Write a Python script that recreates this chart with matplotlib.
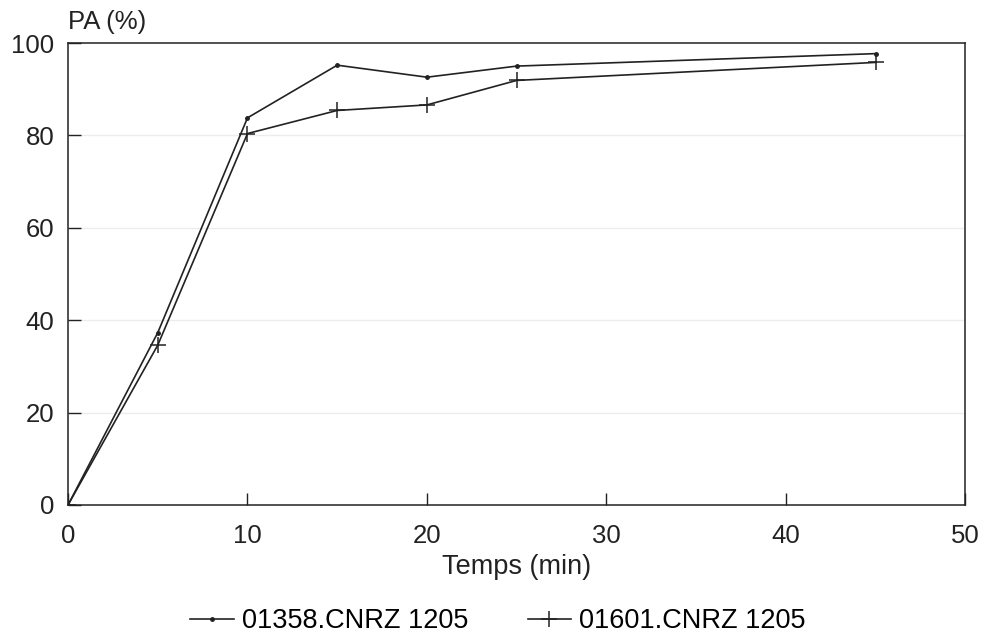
import matplotlib
matplotlib.use("Agg")
import matplotlib.pyplot as plt

plt.rcParams['font.family'] = ['Liberation Sans', 'DejaVu Sans']

time_min = [0, 5, 10, 15, 20, 25, 45]
s1_name = "01358.CNRZ 1205"
s1_vals = [0, 37.3, 83.8, 95.2, 92.6, 95.0, 97.7]
s2_name = "01601.CNRZ 1205"
s2_vals = [0, 34.6, 80.4, 85.4, 86.6, 91.9, 95.8]
x_ticks = [0, 10, 20, 30, 40, 50]
y_ticks = [0, 20, 40, 60, 80, 100]
grid_levels = [20, 40, 60, 80]

fig = plt.figure(figsize=(9.86, 6.38), dpi=100)
ax = fig.add_axes([0.069, 0.2085, 0.910, 0.7241])

for g in grid_levels:
    ax.axhline(g, color='#ececec', lw=1.0, zorder=0)

col = '#222222'
ax.plot(time_min, s1_vals, color=col, lw=1.2, marker='o', markersize=2.5,
        label=s1_name)
ax.plot(time_min, s2_vals, color=col, lw=1.2, marker='+', markersize=12,
        markeredgewidth=1.1, label=s2_name)

ax.set_xlim(0, 50)
ax.set_ylim(0, 100)
ax.set_xticks(x_ticks)
ax.set_yticks(y_ticks)
ax.tick_params(direction='in', length=9, width=1.0, labelsize=18.5,
               colors=col)
ax.tick_params(axis='x', pad=14)
ax.tick_params(axis='y', pad=10)
for s in ax.spines.values():
    s.set_color(col)
    s.set_linewidth(1.1)

ax.set_xlabel("Temps (min)", fontsize=19.5, labelpad=4, color=col)
fig.text(0.069, 0.9655, "PA (%)", fontsize=18.5, ha='left', va='center', color=col)

leg = fig.legend(loc='center', bbox_to_anchor=(0.505, 0.026), ncol=2,
                 frameon=False, fontsize=19.5, handlelength=1.6,
                 columnspacing=2.2, handletextpad=0.3)

fig.savefig("out.png", dpi=100, facecolor='white')
